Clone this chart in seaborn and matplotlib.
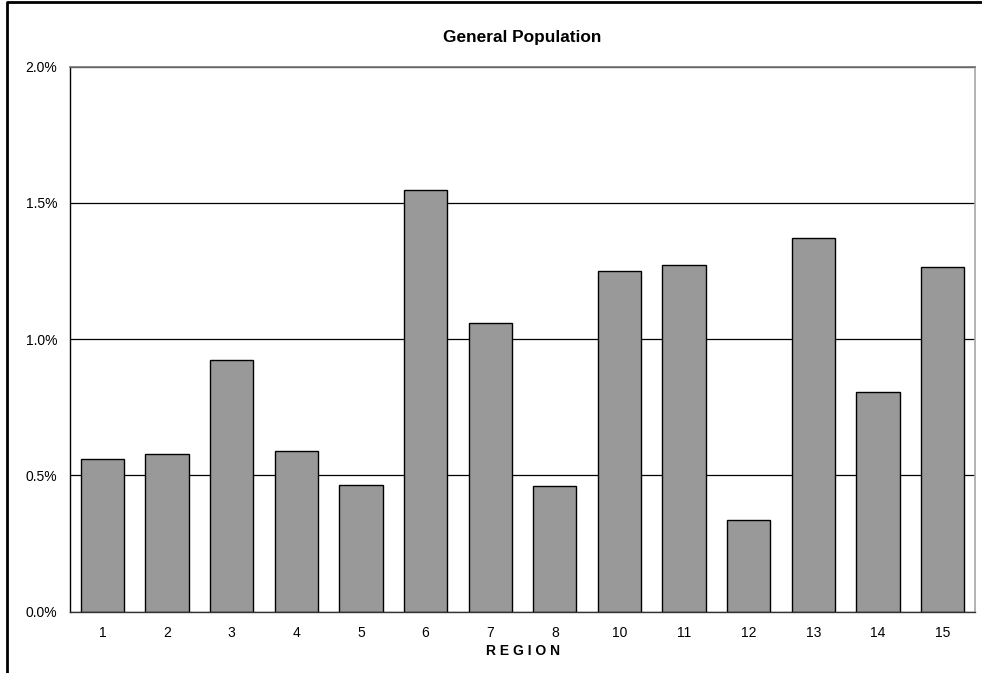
import matplotlib
matplotlib.use("Agg")
import matplotlib.pyplot as plt
import seaborn as sns
import pandas as pd
from matplotlib.ticker import FuncFormatter

regions = ["1", "2", "3", "4", "5", "6", "7", "8", "10", "11", "12", "13", "14", "15"]
values = [0.562, 0.577, 0.925, 0.590, 0.464, 1.549, 1.060, 0.462, 1.251, 1.271, 0.336, 1.373, 0.807, 1.266]
y_ticks = [0.0, 0.5, 1.0, 1.5, 2.0]

df = pd.DataFrame({"region": regions, "value": values})

sns.set_theme(style="white")
plt.rcParams['font.family'] = ['Liberation Sans', 'DejaVu Sans']
plt.rcParams['text.color'] = 'black'
plt.rcParams['axes.labelcolor'] = 'black'

fig = plt.figure(figsize=(9.82, 6.73), dpi=100)
ax = fig.add_axes([70/982, (673-611.7)/673, (975-70)/982, (611.7-66.7)/673])

sns.barplot(data=df, x="region", y="value", order=regions, color="#999999",
            saturation=1, width=0.67, edgecolor="black", linewidth=1.0, ax=ax)

ax.set_ylim(0, 2.0)
ax.set_yticks(y_ticks)
ax.yaxis.set_major_formatter(FuncFormatter(lambda v, p: f"{v:.1f}%"))
ax.set_xlim(-0.5, len(regions) - 0.5)
ax.set_axisbelow(True)
ax.yaxis.grid(True, color="black", linewidth=0.9)
ax.xaxis.grid(False)
ax.tick_params(axis="both", length=0, labelsize=10, colors="black")
ax.tick_params(axis="x", pad=10.5)
ax.tick_params(axis="y", pad=9)

ax.spines["left"].set_color("black")
ax.spines["left"].set_linewidth(1.0)
ax.spines["bottom"].set_color("#333333")
ax.spines["bottom"].set_linewidth(1.0)
ax.spines["top"].set_color("#777777")
ax.spines["right"].set_color("#aaaaaa")

ax.set_ylabel("")
ax.set_xlabel("R E G I O N", fontsize=10, fontweight="bold", labelpad=3, color="black")
fig.text(522.5/982, 1 - 37.5/673, "General Population", ha="center", va="center",
         fontsize=12.4, fontweight="bold", color="black")

# outer chart frame (partially cropped)
frame = plt.Line2D([7/982, 7/982, 1.0], [0.0, 1 - 2/673, 1 - 2/673],
                   transform=fig.transFigure, color="black", linewidth=2)
fig.add_artist(frame)

fig.savefig("out.png", dpi=100, facecolor="white")
